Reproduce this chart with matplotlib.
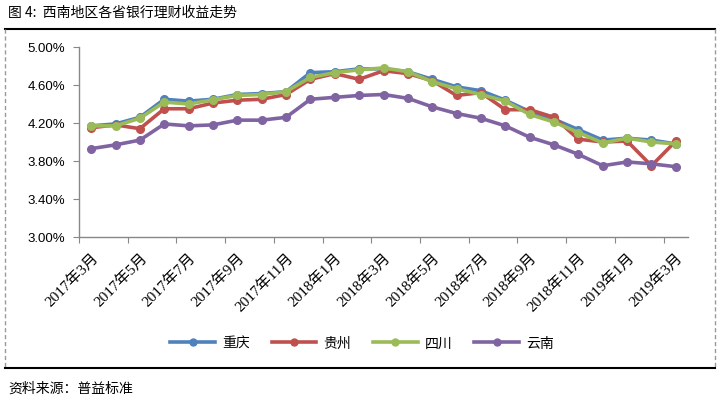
import matplotlib
matplotlib.use("Agg")
import matplotlib.pyplot as plt
from matplotlib.lines import Line2D
from matplotlib.ticker import FixedLocator, FuncFormatter

plt.rcParams['font.family'] = ['Noto Sans CJK SC', 'DejaVu Sans']

months = ["2017年3月", "2017年4月", "2017年5月", "2017年6月", "2017年7月", "2017年8月",
          "2017年9月", "2017年10月", "2017年11月", "2017年12月", "2018年1月", "2018年2月",
          "2018年3月", "2018年4月", "2018年5月", "2018年6月", "2018年7月", "2018年8月",
          "2018年9月", "2018年10月", "2018年11月", "2018年12月", "2019年1月", "2019年2月",
          "2019年3月"]

chongqing = [4.17, 4.19, 4.26, 4.45, 4.43, 4.45, 4.50, 4.51, 4.53, 4.73, 4.74, 4.77,
             4.77, 4.74, 4.66, 4.58, 4.54, 4.44, 4.32, 4.24, 4.13, 4.02, 4.04, 4.02, 3.98]
guizhou = [4.15, 4.18, 4.14, 4.35, 4.35, 4.41, 4.44, 4.45, 4.50, 4.66, 4.72, 4.66,
           4.75, 4.72, 4.645, 4.49, 4.52, 4.34, 4.34, 4.26, 4.03, 4.00, 4.01, 3.75, 4.01]
sichuan = [4.17, 4.17, 4.25, 4.42, 4.40, 4.445, 4.49, 4.50, 4.53, 4.68, 4.73, 4.76,
           4.78, 4.74, 4.635, 4.56, 4.50, 4.43, 4.29, 4.21, 4.10, 3.99, 4.04, 4.00, 3.98]
yunnan = [3.93, 3.97, 4.02, 4.19, 4.17, 4.18, 4.23, 4.23, 4.26, 4.45, 4.47, 4.49,
          4.50, 4.46, 4.37, 4.30, 4.25, 4.17, 4.05, 3.97, 3.87, 3.75, 3.79, 3.77, 3.74]

series_names = ["重庆", "贵州", "四川", "云南"]
series_values = [chongqing, guizhou, sichuan, yunnan]
colors = ["#4F81BD", "#C0504D", "#9BBB59", "#8064A2"]

y_ticks = [3.0, 3.4, 3.8, 4.2, 4.6, 5.0]

fig = plt.figure(figsize=(7.22, 4.02), dpi=100)
ax = fig.add_axes([79/722, 1-238/402, (688-79)/722, (238-48)/402])

x = list(range(len(months)))
for name, vals, c in zip(series_names, series_values, colors):
    ax.plot(x, vals, color=c, lw=2.6, marker='o', markersize=5.5, label=name,
            solid_joinstyle='round')

ax.set_xlim(-0.5, len(months) - 0.5)
ax.set_ylim(3.0, 5.0)
ax.set_yticks(y_ticks)
ax.yaxis.set_major_formatter(FuncFormatter(lambda v, p: f"{v:.2f}%"))
for lab in ax.get_yticklabels():
    lab.set_family(['Liberation Sans'])
    lab.set_fontsize(9.5)

# tick marks between categories every 2, labels every 2 categories
ax.xaxis.set_major_locator(FixedLocator([i - 0.5 for i in range(0, len(months) + 1, 2)]))
ax.xaxis.set_major_formatter(FuncFormatter(lambda v, p: ""))
ax.xaxis.set_minor_locator(FixedLocator(list(range(0, len(months), 2))))
ax.set_xticklabels([months[i] for i in range(0, len(months), 2)], minor=True)
ax.tick_params(axis='x', which='minor', length=0, pad=9)
for lab in ax.get_xticklabels(minor=True):
    lab.set_rotation(45)
    lab.set_ha('right')
    lab.set_va('top')
    lab.set_rotation_mode('anchor')
    lab.set_family(['Liberation Serif', 'Noto Sans CJK SC'])
    lab.set_fontsize(11)

ax.tick_params(axis='x', which='major', length=4, color='#888888', direction='out')
ax.tick_params(axis='y', length=4, color='#888888', direction='out', pad=6)
for s in ['top', 'right']:
    ax.spines[s].set_visible(False)
for s in ['left', 'bottom']:
    ax.spines[s].set_color('#888888')
    ax.spines[s].set_linewidth(1)

leg = fig.legend(loc='center', bbox_to_anchor=(362/722, 1-344/402), ncol=4, frameon=False,
                 fontsize=10, handlelength=3.2, columnspacing=1.6, handletextpad=0.5)
for h in leg.legend_handles:
    h.set_markersize(5)

# frame
fig.add_artist(Line2D([5/722, 715/722], [1-30/402, 1-30/402], color='black', lw=1.5))
fig.add_artist(Line2D([5/722, 715/722], [1-369/402, 1-369/402], color='black', lw=1.5))
fig.add_artist(Line2D([5/722, 5/722], [1-30/402, 1-369/402], color='#999999', lw=1, ls=(0, (3, 2))))
fig.add_artist(Line2D([715/722, 715/722], [1-30/402, 1-369/402], color='#999999', lw=1, ls=(0, (3, 2))))

fig.text(8/722, 1-13/402, "图 4:  西南地区各省银行理财收益走势", fontsize=10, va='center', ha='left')
fig.text(8/722, 1-389/402, "资料来源：普益标准", fontsize=10, va='center', ha='left')

fig.savefig("out.png", dpi=100)
